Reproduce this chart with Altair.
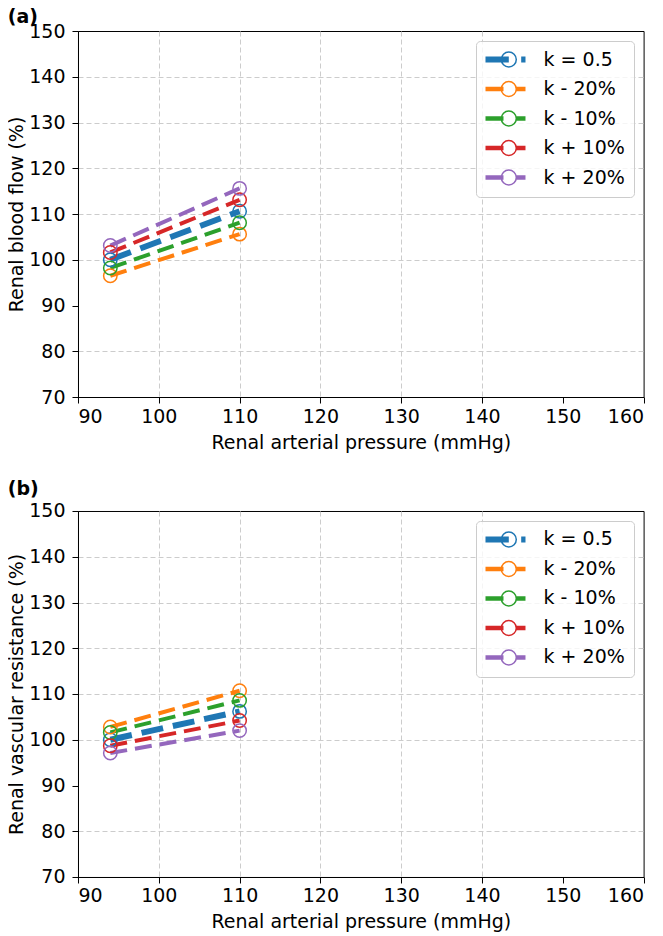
import altair as alt
import pandas as pd

# ---------------- data ----------------
series = ["k = 0.5", "k - 20%", "k - 10%", "k + 10%", "k + 20%"]
colors = ["#1f77b4", "#ff7f0e", "#2ca02c", "#d62728", "#9467bd"]
pressure = [94, 110]

# (a) renal blood flow (%)
rbf_base = [100.0, 110.6]
rbf_m20 = [96.5, 105.6]
rbf_m10 = [98.2, 108.1]
rbf_p10 = [101.6, 113.1]
rbf_p20 = [103.1, 115.6]

# (b) renal vascular resistance (%)
rvr_base = [100.0, 106.2]
rvr_m20 = [102.8, 110.7]
rvr_m10 = [101.6, 108.6]
rvr_p10 = [98.7, 104.2]
rvr_p20 = [97.1, 102.0]

x_ticks = [90, 100, 110, 120, 130, 140, 150, 160]
y_ticks = [70, 80, 90, 100, 110, 120, 130, 140, 150]


def make_df(vals):
    rows = []
    for s, v in zip(series, vals):
        for p, y in zip(pressure, v):
            rows.append({"series": s, "pressure": p, "value": y})
    return pd.DataFrame(rows)


df_a = make_df([rbf_base, rbf_m20, rbf_m10, rbf_p10, rbf_p20])
df_b = make_df([rvr_base, rvr_m20, rvr_m10, rvr_p10, rvr_p20])

# legend symbols (line + open circle), in pixel units (symbolSize=4)
SX = -7  # shift so the symbol starts near the entry's left edge


def bars(x0, x1, ys):
    return " ".join(f"M{x0 + SX},{y}L{x1 + SX},{y}" for y in ys)


circle = (f"M{13.8 + SX},0A7.5,7.5 0 1,1 {28.8 + SX},0"
          f"A7.5,7.5 0 1,1 {13.8 + SX},0")
thin = [-1.5, -0.5, 0.5, 1.5]
thick = [-2.25, -1.25, -0.25, 0.75, 1.75, 2.25]
sym_base = bars(-2, 21.3, thick) + " " + bars(33.7, 38, thick) + " " + circle
sym_other = bars(-2, 16, thin) + " " + bars(29, 38, thin) + " " + circle
symbols = [sym_base] + [sym_other] * 4

FONT = "DejaVu Sans"

color_scale = alt.Scale(domain=series, range=colors)
grid_hide = {"condition": {"test": "datum.value == 90 || datum.value == 160 || datum.value == 70 || datum.value == 150", "value": 0}, "value": 1}

legend_def = alt.Legend(
    title=None,
    orient="top-right",
    offset=10,
    symbolSize=4,
    symbolStrokeWidth=1.5,
    labelOffset=39.6,
    labelFontSize=19,
    labelFont=FONT,
    labelColor="black",
    rowPadding=8.5,
    padding=9,
    fillColor="rgba(255,255,255,0.8)",
    strokeColor="#cccccc",
    cornerRadius=4,
)


def panel(df, ytitle, label, title_offset):
    base = alt.Chart(df)
    x = alt.X("pressure:Q", scale=alt.Scale(domain=[90, 160], nice=False, zero=False),
              axis=alt.Axis(title="Renal arterial pressure (mmHg)", values=x_ticks,
                            labelPadding=4, titlePadding=7, gridOpacity=grid_hide))
    y = alt.Y("value:Q", scale=alt.Scale(domain=[70, 150], nice=False, zero=False),
              axis=alt.Axis(title=ytitle, values=y_ticks, labelPadding=7,
                            titlePadding=2, gridOpacity=grid_hide))
    col = alt.Color("series:N", scale=color_scale, legend=legend_def)
    line_base = base.transform_filter(alt.datum.series == series[0]).mark_line(
        strokeWidth=6, strokeDash=[22, 10]).encode(x=x, y=y, color=col)
    line_rest = base.transform_filter(alt.datum.series != series[0]).mark_line(
        strokeWidth=4, strokeDash=[17, 8]).encode(x=x, y=y, color=col, detail="series:N")
    pts = base.mark_point(shape="circle", filled=False, size=180, strokeWidth=1.5, opacity=1).encode(
        x=x, y=y, color=col,
    )
    leg = base.transform_filter("false").mark_point(filled=False, opacity=1).encode(
        color=col,
        shape=alt.Shape("series:N", scale=alt.Scale(domain=series, range=symbols), legend=legend_def),
    )
    return alt.layer(line_rest, line_base, pts, leg).properties(
        width=565.6, height=366,
        title=alt.TitleParams(label, anchor="start", frame="bounds", fontSize=19,
                              fontWeight="bold", font=FONT, color="black",
                              baseline="alphabetic", offset=title_offset),
    )


chart = alt.vconcat(
    panel(df_a, "Renal blood flow (%)", "(a)", -20),
    panel(df_b, "Renal vascular resistance (%)", "(b)", -12),
    spacing=26,
).resolve_scale(color="independent", shape="independent"
).resolve_legend(color="independent", shape="independent"
).properties(padding={"left": -1, "top": -1, "right": 0, "bottom": 0}, background="white").configure_view(
    stroke="black", strokeWidth=1
).configure_axis(
    labelFont=FONT, titleFont=FONT, labelFontSize=19, titleFontSize=19,
    titleFontWeight="normal", labelColor="black", titleColor="black",
    tickColor="black", domainColor="black", tickSize=6, tickWidth=1, domainWidth=1,
    gridColor="#cccccc", gridDash=[5, 3], gridWidth=1,
)

chart.save("out.html", embed_options={"renderer": "svg", "actions": False})
